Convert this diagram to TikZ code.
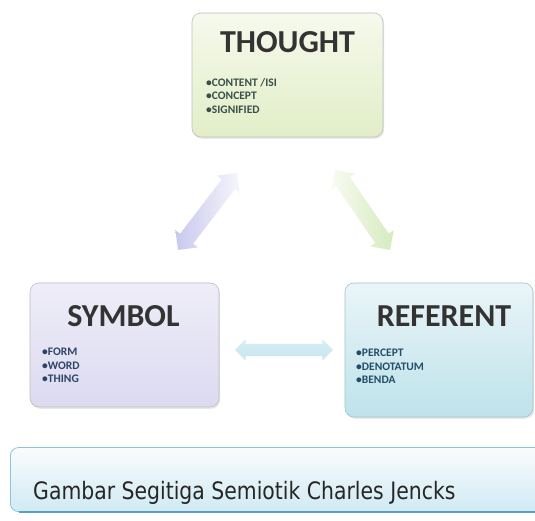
\documentclass[tikz,border=0pt]{standalone}
\usepackage{fontspec}
\setmainfont{Carlito}
\newfontfamily\capfont{DejaVu Sans}
\usetikzlibrary{shapes.arrows,shadows,calc}
\definecolor{titlegray}{HTML}{333333}
\definecolor{bulletblue}{HTML}{2E4466}
\definecolor{bulletgreen}{HTML}{3A5048}
\definecolor{bulletteal}{HTML}{234E68}
\definecolor{thtop}{RGB}{246,249,236}
\definecolor{thbot}{RGB}{226,238,200}
\definecolor{sytop}{RGB}{238,237,248}
\definecolor{sybot}{RGB}{220,218,240}
\definecolor{retop}{RGB}{234,245,249}
\definecolor{rebot}{RGB}{190,226,234}
\definecolor{reline}{RGB}{160,196,206}
\definecolor{cardline}{RGB}{190,190,190}
\definecolor{lafade}{RGB}{246,246,252}
\definecolor{lafull}{RGB}{200,200,238}
\definecolor{grfade}{RGB}{248,251,243}
\definecolor{grfull}{RGB}{214,234,190}
\definecolor{cytop}{RGB}{216,239,245}
\definecolor{cybot}{RGB}{198,229,238}
\definecolor{capline}{RGB}{140,196,218}
\definecolor{captop}{RGB}{250,252,253}
\definecolor{capbot}{RGB}{208,234,243}
\definecolor{capedge}{RGB}{90,160,195}
\tikzset{
  card/.style={rounded corners=9pt, draw=#1, line width=0.6pt,
    drop shadow={opacity=0.18, shadow xshift=1.2pt, shadow yshift=-1.8pt}},
  cardtitle/.style={anchor=base, inner sep=0, text=titlegray,
    font=\fontsize{32}{36}\selectfont\bfseries},
  bullets/.style={anchor=north west, inner sep=0, align=left,
    font=\fontsize{11.5}{13.5}\selectfont\bfseries},
  bigarrow/.style={shape=double arrow, inner xsep=0pt, inner ysep=8pt,
    double arrow head extend=6pt, draw=none},
}
\begin{document}
\begin{tikzpicture}[x=1pt,y=1pt]
\useasboundingbox (0,0) rectangle (535,521);
\clip (0,0) rectangle (535,521);
\fill[white] (0,0) rectangle (535,521);

% cards
\node[card=cardline, top color=thtop, bottom color=thbot,
  minimum width=191pt, minimum height=124pt] (thought) at (287.5,446) {};
\node[card=cardline, top color=sytop, bottom color=sybot,
  minimum width=189pt, minimum height=124pt] (symbol) at (124.5,176) {};
\node[card=reline, top color=retop, bottom color=rebot,
  minimum width=188pt, minimum height=134pt] (referent) at (439,171) {};

% titles
\node[cardtitle] (thoughtT) at (287.5,468) {THOUGHT};
\node[cardtitle] (symbolT) at (123.5,194) {SYMBOL};
\node[cardtitle] (referentT) at (444,194) {REFERENT};

% bullets
\node[bullets, text=bulletgreen] (thoughtB) at (206,443) {•CONTENT /ISI\\•CONCEPT\\•SIGNIFIED};
\node[bullets, text=bulletblue] (symbolB) at (42,173) {•FORM\\•WORD\\•THING};
\node[bullets, text=bulletteal] (referentB) at (356,172) {•PERCEPT\\•DENOTATUM\\•BENDA};

% arrows
\coordinate (l1) at (237,348);
\coordinate (l2) at (178,271);
\coordinate (r1) at (335,351);
\coordinate (r2) at (390,271);
\coordinate (b1) at (235,171);
\coordinate (b2) at (333,171);

\path let \p1=($(l2)-(l1)$), \n1={veclen(\x1,\y1)}, \n2={atan2(\y1,\x1)} in
  node[bigarrow, minimum height=\n1, rotate=\n2,
    left color=lafull, right color=lafade] (larrow) at ($(l1)!0.5!(l2)$) {};
\path let \p1=($(r2)-(r1)$), \n1={veclen(\x1,\y1)}, \n2={atan2(\y1,\x1)} in
  node[bigarrow, minimum height=\n1, rotate=\n2,
    left color=grfade, right color=grfull] (rarrow) at ($(r1)!0.5!(r2)$) {};
\path let \p1=($(b2)-(b1)$), \n1={veclen(\x1,\y1)} in
  node[bigarrow, minimum height=\n1, inner ysep=6pt, double arrow head extend=4.5pt,
    top color=cytop, bottom color=cybot] (barrow) at ($(b1)!0.5!(b2)$) {};

% caption
\node[rounded corners=8pt, draw=capline, line width=0.8pt,
  top color=captop, bottom color=capbot,
  minimum width=545pt, minimum height=64pt, anchor=south west] (capbox) at (10,9) {};
\draw[capedge, line width=1.4pt]
  ([xshift=9pt]capbox.south west) -- ([xshift=-9pt]capbox.south east);
\node[anchor=base west, inner sep=0, text=black!85] (caption) at (33,21)
  {\scalebox{0.85}[1]{\capfont\fontsize{24}{28}\selectfont Gambar Segitiga Semiotik Charles Jencks}};
\end{tikzpicture}
\end{document}
